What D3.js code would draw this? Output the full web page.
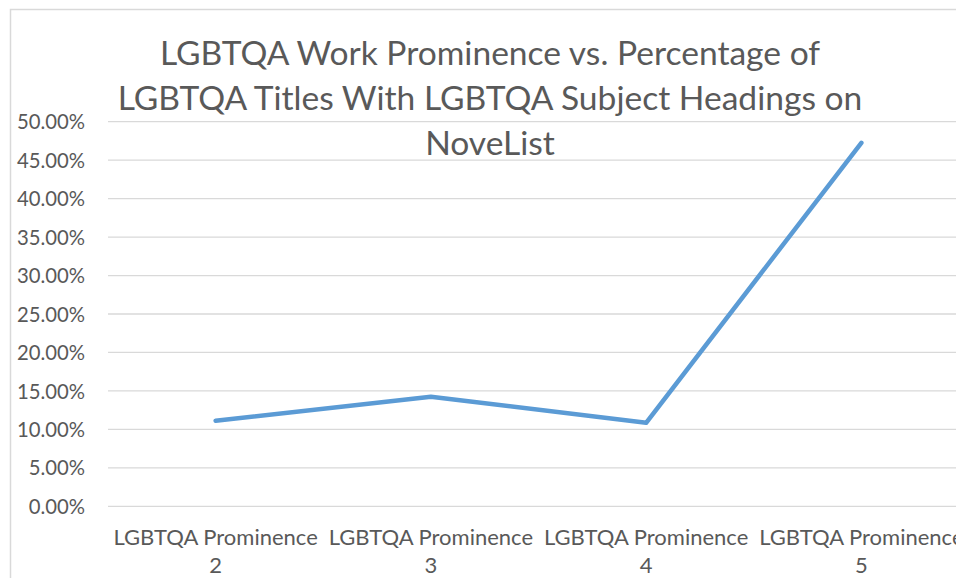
<!DOCTYPE html>
<html><head><meta charset="utf-8">
<script src="https://cdn.jsdelivr.net/npm/d3@7"></script>
<style>
html,body{margin:0;padding:0;background:#fff;overflow:hidden;}
svg{display:block;}
text{font-family:Lato,"Open Sans",sans-serif;fill:#595959;}
</style></head><body>
<svg id="chart" width="956" height="578"></svg>
<script>
const titleLines = ["LGBTQA Work Prominence vs. Percentage of", "LGBTQA Titles With LGBTQA Subject Headings on", "NoveList"];
const categories = ["LGBTQA Prominence 2", "LGBTQA Prominence 3", "LGBTQA Prominence 4", "LGBTQA Prominence 5"];
const values = [0.1112, 0.1424, 0.1086, 0.4725];
const yTicks = [0, 0.05, 0.10, 0.15, 0.20, 0.25, 0.30, 0.35, 0.40, 0.45, 0.50];

const svg = d3.select("#chart");
const W = 956, H = 578;

// outer chart border
svg.append("path").attr("d", `M10.5,${H} L10.5,9.5 L${W},9.5`)
  .attr("fill","none").attr("stroke","#d9d9d9").attr("stroke-width",1.5);

const x = d3.scalePoint().domain(categories).range([108, 969]).padding(0.5);
const y = d3.scaleLinear().domain([0, 0.5]).range([506.3, 121.7]);

// gridlines
const yAxis = d3.axisLeft(y).tickValues(yTicks).tickSize(0).tickFormat(d3.format(".2%"));
svg.append("g").attr("class","grid")
  .selectAll("line").data(yTicks).join("line")
  .attr("x1",108).attr("x2",W+20)
  .attr("y1",d=>y(d)).attr("y2",d=>y(d))
  .attr("stroke","#d9d9d9").attr("stroke-width",1.3);

const gy = svg.append("g").attr("transform","translate(85,0)").call(yAxis);
gy.select(".domain").remove();
gy.selectAll("text").attr("x",0).attr("dx",null).attr("dy","0.35em")
  .style("font-size","20.3px").style("fill","#595959").style("font-family","Lato, 'Open Sans', sans-serif");

// x labels
const gx = svg.append("g");
categories.forEach(c=>{
  const parts = c.split(" ");
  const num = parts.pop();
  const t = gx.append("text").attr("text-anchor","middle").style("font-size","22px");
  t.append("tspan").attr("x",x(c)).attr("y",545).text(parts.join(" "));
  t.append("tspan").attr("x",x(c)).attr("y",572.7).text(num);
});

// line
const line = d3.line().x((d,i)=>x(categories[i])).y(d=>y(d));
svg.append("path").datum(values).attr("d",line)
  .attr("fill","none").attr("stroke","#5b9bd5").attr("stroke-width",4.5)
  .attr("stroke-linecap","round").attr("stroke-linejoin","round");

// title
const tt = svg.append("text").attr("text-anchor","middle").style("font-size","33.6px");
titleLines.forEach((l,i)=>{
  tt.append("tspan").attr("x",490).attr("y",65+i*45).text(l);
});
</script>
</body></html>
